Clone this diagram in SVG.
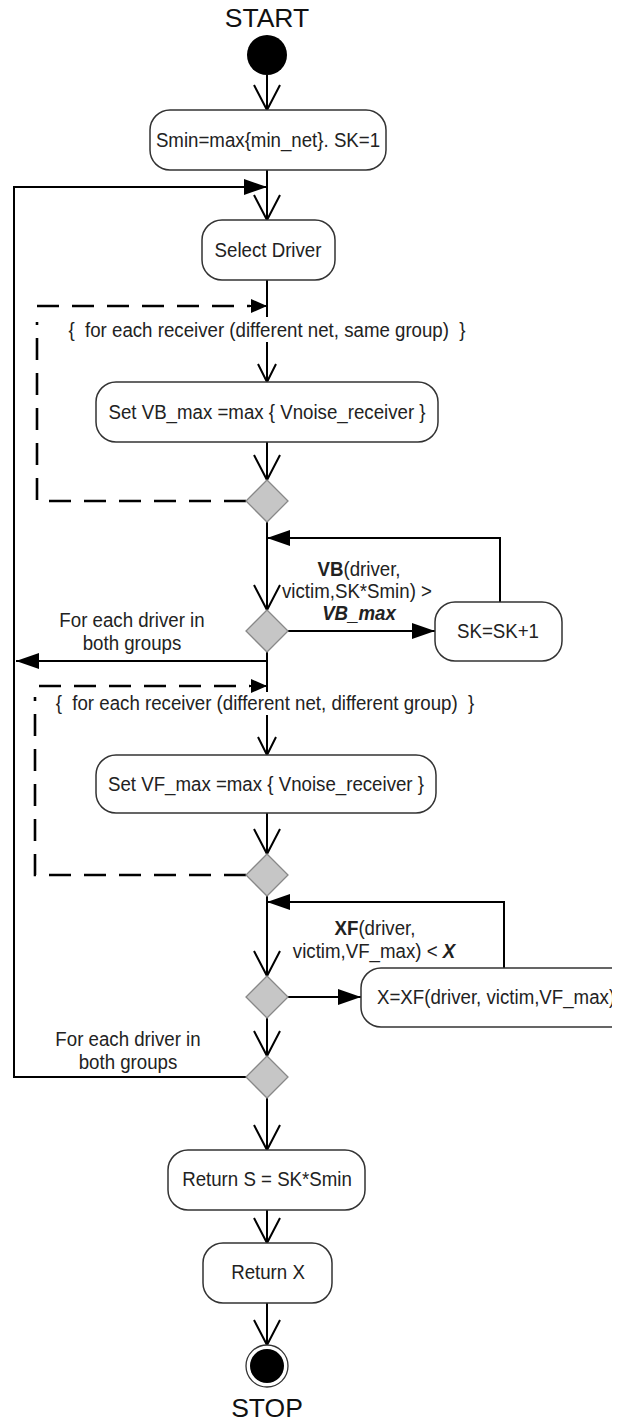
<svg xmlns="http://www.w3.org/2000/svg" width="619" height="1421" viewBox="0 0 619 1421">
<style>
.t{font-family:"Liberation Sans",Arial,sans-serif;font-size:21px;fill:#222;text-anchor:middle;dominant-baseline:central}
.s{text-anchor:start}
.big{font-family:"Liberation Sans",Arial,sans-serif;font-size:26.5px;fill:#111;text-anchor:middle}
.box{fill:#fff;stroke:#333;stroke-width:1.5}
.dia{fill:#c6c6c6;stroke:#888;stroke-width:1.3}
.ln{fill:none;stroke:#000;stroke-width:2}
.dash{fill:none;stroke:#000;stroke-width:2.6;stroke-dasharray:22 13}
</style>
<defs>
<marker id="fa" markerUnits="userSpaceOnUse" markerWidth="24" markerHeight="16" refX="23" refY="8" orient="auto" overflow="visible"><path d="M0,0 L23,8 L0,16 z" fill="#000"/></marker>
<marker id="fs" markerUnits="userSpaceOnUse" markerWidth="17" markerHeight="14" refX="16" refY="7" orient="auto" overflow="visible"><path d="M0,0 L16,7 L0,14 z" fill="#000"/></marker>
<marker id="va" markerUnits="userSpaceOnUse" markerWidth="28" markerHeight="30" refX="25" refY="14" orient="auto" overflow="visible"><path d="M0,1 L25,14 L0,27" fill="none" stroke="#000" stroke-width="2"/></marker>
<marker id="vs" markerUnits="userSpaceOnUse" markerWidth="20" markerHeight="20" refX="18" refY="10" orient="auto" overflow="visible"><path d="M0,1 L18,10 L0,19" fill="none" stroke="#000" stroke-width="2"/></marker>
<clipPath id="crop"><rect x="0" y="0" width="612" height="1421"/></clipPath>
</defs>

<g id="connectors">
<path class="ln" d="M267,75 V110" marker-end="url(#va)"/>
<path class="ln" d="M267,170 V220" marker-end="url(#va)"/>
<path class="ln" d="M246,1077 H14 V187 H267" marker-end="url(#fa)"/>
<path class="ln" d="M267,280 V317"/>
<path class="dash" d="M37,306 H250"/>
<path class="ln" d="M250,306 H267" marker-end="url(#fs)"/>
<path class="dash" d="M246,501 H37 V322"/>
<path class="ln" d="M267,342 V382" marker-end="url(#vs)"/>
<path class="ln" d="M267,442 V480" marker-end="url(#va)"/>
<path class="ln" d="M267,522 V610" marker-end="url(#va)"/>
<path class="ln" d="M500,602 V538 H267" marker-end="url(#fa)"/>
<path class="ln" d="M288,631 H435" marker-end="url(#fa)"/>
<path class="ln" d="M267,652 V692"/>
<path class="ln" d="M267,661 H16" marker-end="url(#fa)"/>
<path class="dash" d="M39,686 H250"/>
<path class="ln" d="M250,686 H267" marker-end="url(#fs)"/>
<path class="dash" d="M246,875 H35 V697"/>
<path class="ln" d="M267,715 V755" marker-end="url(#vs)"/>
<path class="ln" d="M267,813 V854" marker-end="url(#va)"/>
<path class="ln" d="M267,896 V976" marker-end="url(#va)"/>
<path class="ln" d="M504,968 V902 H267" marker-end="url(#fa)"/>
<path class="ln" d="M288,997 H361" marker-end="url(#fa)"/>
<path class="ln" d="M267,1018 V1056" marker-end="url(#va)"/>
<path class="ln" d="M267,1098 V1150" marker-end="url(#va)"/>
<path class="ln" d="M267,1210 V1243" marker-end="url(#va)"/>
<path class="ln" d="M267,1303 V1345" marker-end="url(#va)"/>
<text class="t" transform="translate(267,330) scale(0.89,1)" xml:space="preserve">{  for each receiver (different net, same group)  }</text>
<text class="t" transform="translate(265,703) scale(0.89,1)" xml:space="preserve">{  for each receiver (different net, different group)  }</text>
<text class="t" transform="translate(359,569) scale(0.89,1)"><tspan font-weight="bold">VB</tspan>(driver,</text>
<text class="t" transform="translate(357,591) scale(0.89,1)">victim,SK*Smin) &gt;</text>
<text class="t" transform="translate(359,613) scale(0.89,1)" font-weight="bold" font-style="italic">VB_max</text>
<text class="t" transform="translate(132,620) scale(0.89,1)">For each driver in</text>
<text class="t" transform="translate(132,643) scale(0.89,1)">both groups</text>
<text class="t" transform="translate(375,928) scale(0.89,1)"><tspan font-weight="bold">XF</tspan>(driver,</text>
<text class="t" transform="translate(374,951) scale(0.89,1)">victim,VF_max) &lt; <tspan font-weight="bold" font-style="italic">X</tspan></text>
<text class="t" transform="translate(128,1039) scale(0.89,1)">For each driver in</text>
<text class="t" transform="translate(128,1062) scale(0.89,1)">both groups</text>
</g>

<g id="start">
<text class="big" x="267" y="27">START</text>
<circle cx="267" cy="55" r="20" fill="#000"/>
</g>
<g id="init"><rect class="box" x="150" y="110" width="236" height="60" rx="20"/><text class="t" transform="translate(268,140) scale(0.89,1)">Smin=max{min_net}. SK=1</text></g>
<g id="select-driver"><rect class="box" x="202" y="220" width="133" height="60" rx="20"/><text class="t" transform="translate(268,250) scale(0.89,1)">Select Driver</text></g>
<g id="set-vb"><rect class="box" x="96" y="382" width="342" height="60" rx="20"/><text class="t" transform="translate(267,412) scale(0.89,1)">Set VB_max =max { Vnoise_receiver }</text></g>
<g id="d1"><polygon class="dia" points="267,480 288,501 267,522 246,501"/></g>
<g id="d2"><polygon class="dia" points="267,610 288,631 267,652 246,631"/></g>
<g id="sk"><rect class="box" x="435" y="602" width="127" height="59" rx="20"/><text class="t" transform="translate(498,631) scale(0.89,1)">SK=SK+1</text></g>
<g id="set-vf"><rect class="box" x="96" y="755" width="340" height="58" rx="20"/><text class="t" transform="translate(266,784) scale(0.89,1)">Set VF_max =max { Vnoise_receiver }</text></g>
<g id="d3"><polygon class="dia" points="267,854 288,875 267,896 246,875"/></g>
<g id="d4"><polygon class="dia" points="267,976 288,997 267,1018 246,997"/></g>
<g id="setx" clip-path="url(#crop)"><rect class="box" x="361" y="968" width="290" height="59" rx="20"/><text class="t s" transform="translate(377,997) scale(0.89,1)">X=XF(driver, victim,VF_max)</text></g>
<g id="d5"><polygon class="dia" points="267,1056 288,1077 267,1098 246,1077"/></g>
<g id="ret-s"><rect class="box" x="168" y="1150" width="197" height="60" rx="20"/><text class="t" transform="translate(267,1179) scale(0.89,1)">Return S = SK*Smin</text></g>
<g id="ret-x"><rect class="box" x="203" y="1243" width="129" height="60" rx="20"/><text class="t" transform="translate(268,1272) scale(0.89,1)">Return X</text></g>
<g id="stop">
<circle cx="267" cy="1366" r="21" fill="#fff" stroke="#333" stroke-width="1.3"/>
<circle cx="267" cy="1366" r="17" fill="#000"/>
<text class="big" x="267" y="1417">STOP</text>
</g>
</svg>
